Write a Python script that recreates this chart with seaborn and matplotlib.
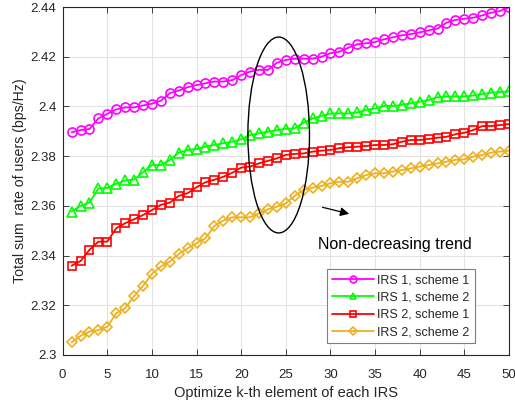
import numpy as np
import pandas as pd
import matplotlib
matplotlib.use("Agg")
import matplotlib.pyplot as plt
import seaborn as sns
from matplotlib.patches import Ellipse

k = list(range(1, 51))

irs1_s1 = [2.3896, 2.3905, 2.3909, 2.3952, 2.3970, 2.3988, 2.3996, 2.3996, 2.4004, 2.4011,
           2.4023, 2.4053, 2.4064, 2.4077, 2.4086, 2.4093, 2.4100, 2.4100, 2.4106, 2.4126,
           2.4140, 2.4147, 2.4147, 2.4176, 2.4187, 2.4192, 2.4192, 2.4192, 2.4200, 2.4214,
           2.4220, 2.4236, 2.4250, 2.4254, 2.4259, 2.4270, 2.4278, 2.4286, 2.4291, 2.4298,
           2.4306, 2.4313, 2.4337, 2.4348, 2.4353, 2.4357, 2.4366, 2.4377, 2.4384, 2.4399]

irs1_s2 = [2.3577, 2.3600, 2.3613, 2.3670, 2.3672, 2.3689, 2.3702, 2.3706, 2.3735, 2.3764,
           2.3764, 2.3785, 2.3814, 2.3825, 2.3829, 2.3838, 2.3845, 2.3852, 2.3858, 2.3868,
           2.3885, 2.3892, 2.3898, 2.3905, 2.3910, 2.3912, 2.3935, 2.3952, 2.3962, 2.3972,
           2.3972, 2.3972, 2.3976, 2.3986, 2.3992, 2.4002, 2.4002, 2.4006, 2.4013, 2.4019,
           2.4026, 2.4037, 2.4040, 2.4040, 2.4040, 2.4044, 2.4050, 2.4055, 2.4058, 2.4061]

irs2_s1 = [2.3359, 2.3378, 2.3423, 2.3456, 2.3456, 2.3510, 2.3530, 2.3546, 2.3563, 2.3583,
           2.3604, 2.3613, 2.3640, 2.3651, 2.3675, 2.3695, 2.3705, 2.3717, 2.3733, 2.3754,
           2.3758, 2.3771, 2.3781, 2.3791, 2.3805, 2.3809, 2.3811, 2.3818, 2.3822, 2.3825,
           2.3832, 2.3836, 2.3838, 2.3841, 2.3845, 2.3845, 2.3848, 2.3858, 2.3865, 2.3865,
           2.3869, 2.3874, 2.3878, 2.3888, 2.3894, 2.3905, 2.3921, 2.3921, 2.3925, 2.3929]

irs2_s2 = [2.3051, 2.3077, 2.3094, 2.3100, 2.3114, 2.3168, 2.3188, 2.3237, 2.3278, 2.3326,
           2.3356, 2.3376, 2.3406, 2.3429, 2.3450, 2.3470, 2.3519, 2.3541, 2.3554, 2.3554,
           2.3554, 2.3570, 2.3586, 2.3597, 2.3610, 2.3640, 2.3664, 2.3673, 2.3680, 2.3691,
           2.3697, 2.3697, 2.3711, 2.3724, 2.3731, 2.3731, 2.3738, 2.3744, 2.3751, 2.3758,
           2.3764, 2.3771, 2.3778, 2.3785, 2.3787, 2.3798, 2.3805, 2.3814, 2.3818, 2.3822]

labels = ["IRS 1, scheme 1", "IRS 1, scheme 2", "IRS 2, scheme 1", "IRS 2, scheme 2"]
series = [irs1_s1, irs1_s2, irs2_s1, irs2_s2]
colors = ["#FF00FF", "#00FF00", "#FF0000", "#EDB120"]
markers = ["o", "^", "s", "D"]
msizes = [6.5, 6.5, 5.5, 5.5]

xticks = [0, 5, 10, 15, 20, 25, 30, 35, 40, 45, 50]
yticks = [2.30, 2.32, 2.34, 2.36, 2.38, 2.40, 2.42, 2.44]
ytick_labels = ["2.3", "2.32", "2.34", "2.36", "2.38", "2.4", "2.42", "2.44"]

sns.set_theme(style="whitegrid")
plt.rcParams["font.family"] = ["Liberation Sans", "DejaVu Sans"]

fig = plt.figure(figsize=(5.15, 4.07), dpi=100)
ax = fig.add_axes([0.1217, 0.1278, 0.8666, 0.855])

for lab, vals, c, m, ms in zip(labels, series, colors, markers, msizes):
    df = pd.DataFrame({"k": k, "rate": vals})
    sns.lineplot(data=df, x="k", y="rate", ax=ax, color=c, marker=m,
                 markersize=ms, markerfacecolor="none", markeredgecolor=c,
                 markeredgewidth=1.2, linewidth=1.3, label=lab)

ax.set_xlim(0, 50)
ax.set_ylim(2.30, 2.44)
ax.set_xticks(xticks)
ax.set_xticklabels([str(t) for t in xticks])
ax.set_yticks(yticks)
ax.set_yticklabels(ytick_labels)

ax.grid(True, color="#E3E3E3", linewidth=0.8)
for sp in ax.spines.values():
    sp.set_visible(True)
    sp.set_color("#262626")
    sp.set_linewidth(0.8)
ax.set_facecolor("white")
ax.tick_params(direction="in", length=4, width=0.6, colors="#262626",
               labelsize=9.5, top=True, right=True, bottom=True, left=True)
ax.tick_params(axis="x", pad=10)
ax.tick_params(axis="y", pad=4.5)

ax.set_xlabel("Optimize k-th element of each IRS", fontsize=10.5, color="#262626", labelpad=4)
ax.set_ylabel("Total sum  rate of users (bps/Hz)", fontsize=10.2, color="#262626", labelpad=3)

ell = Ellipse((24.2, 2.3885), width=6.9, height=0.0788, fill=False,
              edgecolor="black", linewidth=1.0, zorder=5)
ax.add_patch(ell)
ax.annotate("", xy=(32.4, 2.3565), xytext=(28.8, 2.3597),
            arrowprops=dict(arrowstyle="-|>", color="black", lw=0.9,
                            mutation_scale=13))
ax.text(28.6, 2.3443, "Non-decreasing trend", fontsize=11.5, color="black",
        va="center", ha="left")

leg = ax.legend(loc="lower left", bbox_to_anchor=(0.593, 0.034), fontsize=9,
                frameon=True, fancybox=False, edgecolor="#7F7F7F",
                framealpha=1, handlelength=3.3, markerscale=0.75,
                borderpad=0.4, labelspacing=0.42, handletextpad=0.3,
                borderaxespad=0)
leg.get_frame().set_linewidth(0.8)

fig.savefig("out.png", dpi=100)
